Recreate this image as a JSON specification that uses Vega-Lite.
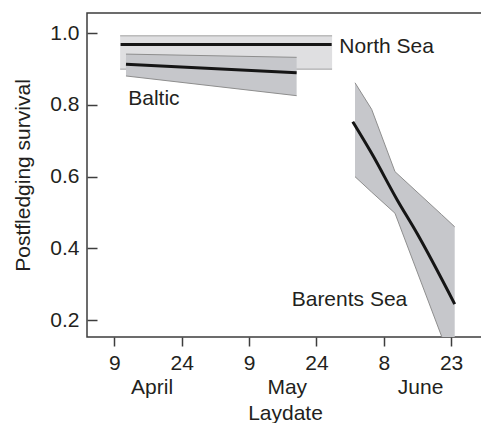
{
  "$schema": "https://vega.github.io/schema/vega-lite/v6.json",
  "width": 396,
  "height": 324,
  "autosize": "none",
  "padding": {"left": 87, "top": 13, "right": 0, "bottom": 86},
  "background": "white",
  "config": {
    "view": {"stroke": "#3d3d3d", "strokeWidth": 1.5},
    "font": "Liberation Sans",
    "axis": {
      "grid": false,
      "domain": false,
      "labelFont": "Liberation Sans",
      "labelFontSize": 21,
      "labelColor": "#231f20",
      "titleFont": "Liberation Sans",
      "titleFontSize": 21,
      "titleFontWeight": "normal",
      "titleColor": "#231f20",
      "tickColor": "#3d3d3d",
      "tickWidth": 1.5
    },
    "axisY": {
      "orient": "left",
      "offset": -10,
      "tickSize": 10,
      "labelPadding": 8,
      "titlePadding": 16,
      "labelOverlap": false,
      "labelFlush": false
    }
  },
  "data": {
    "values": [
      {"region": "North Sea", "kind": "band", "day": 100.3, "lo": 0.900, "hi": 0.993},
      {"region": "North Sea", "kind": "band", "day": 147.5, "lo": 0.900, "hi": 0.993},
      {"region": "Baltic", "kind": "band", "day": 101.6, "lo": 0.881, "hi": 0.942},
      {"region": "Baltic", "kind": "band", "day": 139.6, "lo": 0.826, "hi": 0.933},
      {"region": "Barents Sea", "kind": "band", "day": 152.6, "lo": 0.600, "hi": 0.862},
      {"region": "Barents Sea", "kind": "band", "day": 156.3, "lo": 0.557, "hi": 0.788},
      {"region": "Barents Sea", "kind": "band", "day": 161.5, "lo": 0.498, "hi": 0.614},
      {"region": "Barents Sea", "kind": "band", "day": 171.9, "lo": 0.154, "hi": 0.494},
      {"region": "Barents Sea", "kind": "band", "day": 174.8, "lo": 0.055, "hi": 0.460},
      {"region": "North Sea", "kind": "fit", "day": 100.4, "fit": 0.969},
      {"region": "North Sea", "kind": "fit", "day": 147.4, "fit": 0.969},
      {"region": "Baltic", "kind": "fit", "day": 101.6, "fit": 0.9135},
      {"region": "Baltic", "kind": "fit", "day": 139.6, "fit": 0.890},
      {"region": "Barents Sea", "kind": "fit", "day": 152.1, "fit": 0.753},
      {"region": "Barents Sea", "kind": "fit", "day": 156.3, "fit": 0.665},
      {"region": "Barents Sea", "kind": "fit", "day": 162.0, "fit": 0.535},
      {"region": "Barents Sea", "kind": "fit", "day": 166.4, "fit": 0.442},
      {"region": "Barents Sea", "kind": "fit", "day": 174.8, "fit": 0.2445},
      {"region": "North Sea", "kind": "label", "day": 149.1, "v": 0.9626, "label": "North Sea"},
      {"region": "Baltic", "kind": "label", "day": 102.1, "v": 0.8166, "label": "Baltic"},
      {"region": "Barents Sea", "kind": "label", "day": 138.5, "v": 0.2557, "label": "Barents Sea"}
    ]
  },
  "encoding": {
    "x": {
      "field": "day",
      "type": "quantitative",
      "scale": {"domain": [92.92, 181.1], "nice": false, "zero": false},
      "axis": {
        "title": "Laydate",
        "values": [99, 107.3, 114, 129, 137.4, 144, 159, 167.1, 174],
        "labelExpr": "datum.value == 99 || datum.value == 129 ? '9' : datum.value == 114 || datum.value == 144 ? '24' : datum.value == 159 ? '8' : datum.value == 174 ? '23' : datum.value < 110 ? [' ', 'April'] : datum.value < 140 ? [' ', 'May'] : [' ', 'June']",
        "tickSize": 9,
        "tickOpacity": {"condition": {"test": "datum.value % 15 != 9", "value": 0}, "value": 1},
        "labelPadding": 6,
        "labelLineHeight": 24,
        "labelOverlap": false,
        "labelFlush": false,
        "labelBound": false,
        "titlePadding": 5
      }
    }
  },
  "layer": [
    {
      "transform": [{"filter": "datum.region == 'North Sea' && datum.kind == 'band'"}],
      "mark": {"type": "area", "color": "#dfdfe1", "opacity": 1},
      "encoding": {
        "y": {"field": "lo", "type": "quantitative", "title": "Postfledging survival", "scale": {"domain": [0.1526, 1.0567], "nice": false, "zero": false}, "axis": {"values": [0.2, 0.4, 0.6, 0.8, 1.0], "format": ".1f"}},
        "y2": {"field": "hi"}
      }
    },
    {
      "transform": [
        {"filter": "datum.region == 'North Sea' && datum.kind == 'band'"},
        {"fold": ["lo", "hi"], "as": ["edge", "val"]}
      ],
      "mark": {"type": "line", "color": "#a0a0a0", "strokeWidth": 1},
      "encoding": {
        "y": {"field": "val", "type": "quantitative", "title": "Postfledging survival", "scale": {"domain": [0.1526, 1.0567], "nice": false, "zero": false}, "axis": {"values": [0.2, 0.4, 0.6, 0.8, 1.0], "format": ".1f"}},
        "detail": {"field": "edge"}
      }
    },
    {
      "transform": [{"filter": "datum.region == 'Baltic' && datum.kind == 'band'"}],
      "mark": {"type": "area", "color": "#c6c7cb", "opacity": 1},
      "encoding": {
        "y": {"field": "lo", "type": "quantitative", "title": "Postfledging survival", "scale": {"domain": [0.1526, 1.0567], "nice": false, "zero": false}, "axis": {"values": [0.2, 0.4, 0.6, 0.8, 1.0], "format": ".1f"}},
        "y2": {"field": "hi"}
      }
    },
    {
      "transform": [
        {"filter": "datum.region == 'Baltic' && datum.kind == 'band'"},
        {"fold": ["lo", "hi"], "as": ["edge", "val"]}
      ],
      "mark": {"type": "line", "color": "#8e8e8e", "strokeWidth": 1},
      "encoding": {
        "y": {"field": "val", "type": "quantitative", "title": "Postfledging survival", "scale": {"domain": [0.1526, 1.0567], "nice": false, "zero": false}, "axis": {"values": [0.2, 0.4, 0.6, 0.8, 1.0], "format": ".1f"}},
        "detail": {"field": "edge"}
      }
    },
    {
      "transform": [{"filter": "datum.region == 'Barents Sea' && datum.kind == 'band'"}],
      "mark": {"type": "area", "color": "#c6c7cb", "opacity": 1, "clip": true},
      "encoding": {
        "y": {"field": "lo", "type": "quantitative", "title": "Postfledging survival", "scale": {"domain": [0.1526, 1.0567], "nice": false, "zero": false}, "axis": {"values": [0.2, 0.4, 0.6, 0.8, 1.0], "format": ".1f"}},
        "y2": {"field": "hi"}
      }
    },
    {
      "transform": [
        {"filter": "datum.region == 'Barents Sea' && datum.kind == 'band'"},
        {"fold": ["lo", "hi"], "as": ["edge", "val"]}
      ],
      "mark": {"type": "line", "color": "#8e8e8e", "strokeWidth": 1, "clip": true},
      "encoding": {
        "y": {"field": "val", "type": "quantitative", "title": "Postfledging survival", "scale": {"domain": [0.1526, 1.0567], "nice": false, "zero": false}, "axis": {"values": [0.2, 0.4, 0.6, 0.8, 1.0], "format": ".1f"}},
        "detail": {"field": "edge"}
      }
    },
    {
      "transform": [{"filter": "datum.kind == 'fit'"}],
      "mark": {"type": "line", "color": "#151515", "strokeWidth": 3, "interpolate": "monotone", "clip": true},
      "encoding": {
        "y": {"field": "fit", "type": "quantitative", "title": "Postfledging survival", "scale": {"domain": [0.1526, 1.0567], "nice": false, "zero": false}, "axis": {"values": [0.2, 0.4, 0.6, 0.8, 1.0], "format": ".1f"}},
        "detail": {"field": "region"}
      }
    },
    {
      "transform": [{"filter": "datum.kind == 'label'"}],
      "mark": {"type": "text", "align": "left", "baseline": "middle", "font": "Liberation Sans", "fontSize": 21, "color": "#231f20"},
      "encoding": {
        "y": {"field": "v", "type": "quantitative", "title": "Postfledging survival", "scale": {"domain": [0.1526, 1.0567], "nice": false, "zero": false}, "axis": {"values": [0.2, 0.4, 0.6, 0.8, 1.0], "format": ".1f"}},
        "text": {"field": "label"}
      }
    }
  ]
}
